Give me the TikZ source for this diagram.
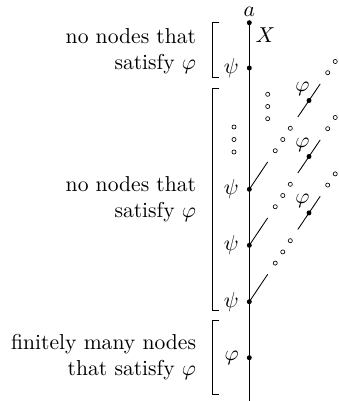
\documentclass[tikz,border=0pt]{standalone}
\usetikzlibrary{calc}
\begin{document}
\begin{tikzpicture}[x=0.463pt,y=-0.463pt,
  dot/.style={circle,fill,inner sep=0pt,minimum size=2.3pt},
  odot/.style={circle,draw,line width=0.3pt,inner sep=0pt,minimum size=1.9pt},
  txt/.style={inner sep=0pt,align=right,anchor=east},
  brk/.style={line width=0.45pt}]
\useasboundingbox (0,0) rectangle (339,401);
% main spine
\coordinate (bot) at (249.3,401);
\node[dot,label={[label distance=-1.8pt]above:$a$}] (top) at (249.3,22.7) {};
\draw (top.center) -- (bot);
\node (xl) at (265.5,35) {$X$};
\node[dot,label=left:$\psi$] (psi0) at (249.3,68) {};
\node[dot,label=left:$\psi$] (psi1) at (249.3,189.3) {};
\node[dot,label=left:$\psi$] (psi2) at (249.3,245.3) {};
\node[dot,label=left:$\psi$] (psi3) at (249.3,301.7) {};
\node[dot,label=left:$\varphi$] (phiB) at (249.3,357.7) {};
% chains
\foreach \i in {1,2,3}{
  \path (psi\i.center) ++(18.4,-27.4) coordinate (s\i);
  \draw (psi\i.center) -- (s\i);
  \foreach \t/\n in {46.5/a,60/b,73.5/c,140.5/d,154/e}
    \node[odot] (o\i\n) at ($(psi\i.center)+(0.558*\t,-0.830*\t)$) {};
  \path (psi\i.center) ++(48.5,-72.2) coordinate (ps\i) ++(22.4,-33.2) coordinate (pe\i);
  \draw (ps\i) -- (pe\i);
  \node[dot] (phi\i) at ($(psi\i.center)+(59.7,-88.8)$) {};
  \node (phil\i) at ($(phi\i)+(-6.5,-11.5)$) {$\varphi$};
}
% vertical ellipses
\foreach \y/\n in {94.3/1,106.5/2,118.7/3} \node[odot] (vr\n) at (267.7,\y) {};
\foreach \y/\n in {127/1,139.5/2,152/3} \node[odot] (vl\n) at (234,\y) {};
% brackets
\draw[brk] (219.3,22.7) -- (212.7,22.7) -- (212.7,77.7) -- (219.3,77.7);
\draw[brk] (219.3,88.3) -- (212.7,88.3) -- (212.7,310.7) -- (219.3,310.7);
\draw[brk] (219.3,320.7) -- (212.7,320.7) -- (212.7,394) -- (219.3,394);
% texts
\node[txt] (t1) at (196.5,51) {no nodes that\\ satisfy $\varphi$};
\node[txt] (t2) at (196.5,199.5) {no nodes that\\ satisfy $\varphi$};
\node[txt] (t3) at (196.5,357.3) {finitely many nodes\\ that satisfy $\varphi$};
\end{tikzpicture}
\end{document}
